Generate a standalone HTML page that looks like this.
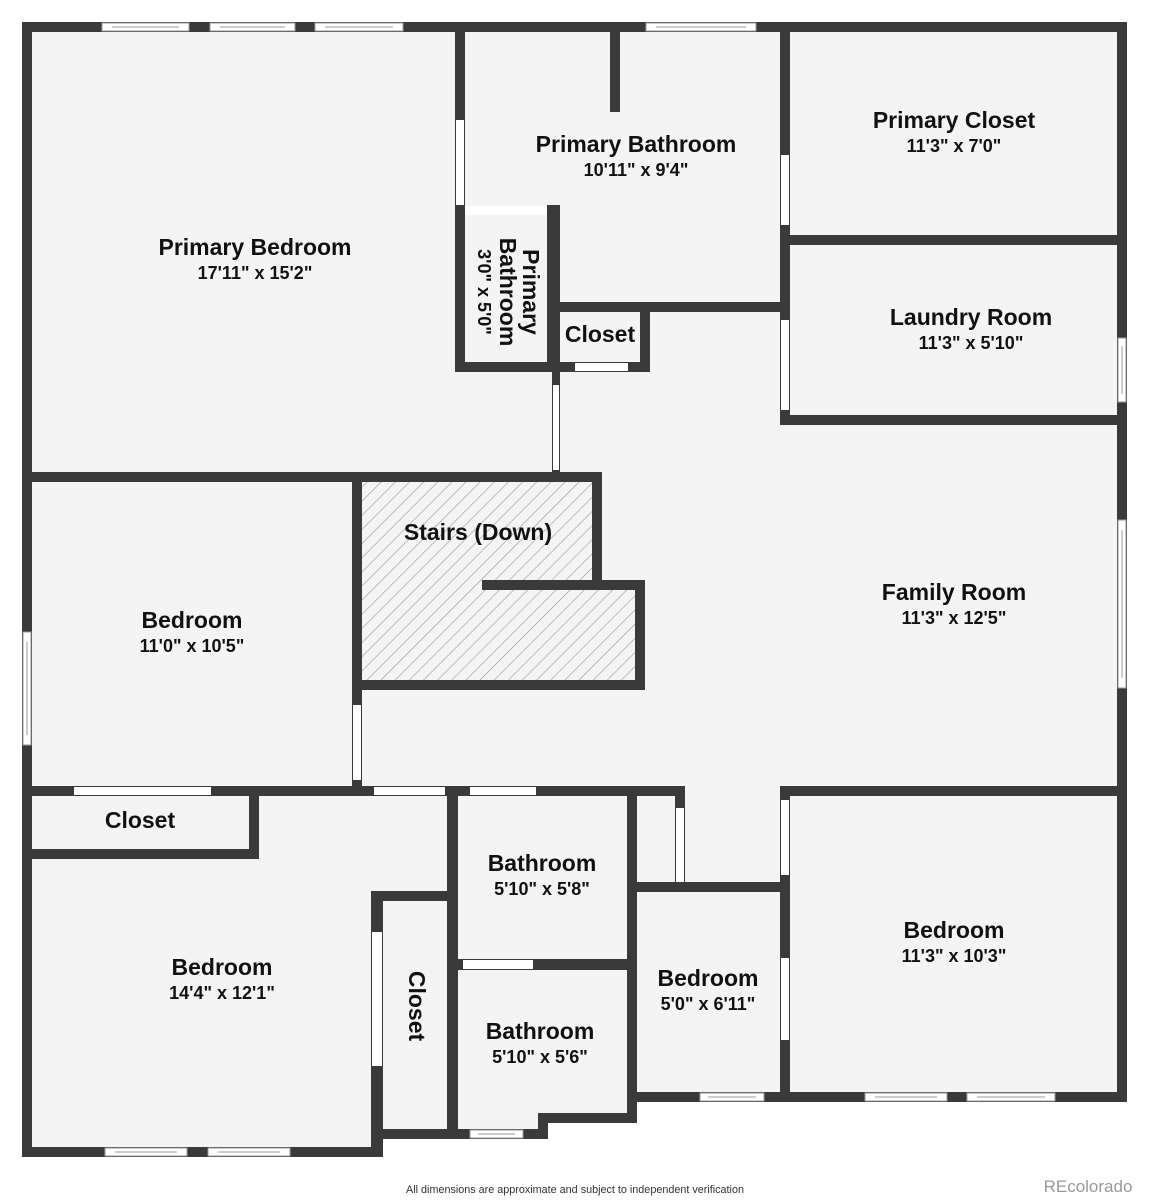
<!DOCTYPE html>
<html><head><meta charset="utf-8"><style>
html,body{margin:0;padding:0;background:#fff;width:1149px;height:1200px;overflow:hidden}
svg{display:block}
.t{font-family:"Liberation Sans",sans-serif;font-weight:bold;fill:#111;text-anchor:middle}
.n{font-size:23px}
.d{font-size:18px}
</style></head><body>
<svg width="1149" height="1200" viewBox="0 0 1149 1200">
<defs>
<pattern id="h" patternUnits="userSpaceOnUse" width="10" height="10" patternTransform="rotate(45)">
<rect width="10" height="10" fill="#f4f4f4"/><line x1="0" y1="0" x2="0" y2="10" stroke="#999" stroke-width="1.2"/>
</pattern>
</defs>
<polygon points="22,22 1127,22 1127,1102 637,1102 637,1123 548,1123 548,1139 382,1139 382,1157 22,1157" fill="#f4f4f4"/>
<rect x="362" y="482" width="236" height="103" fill="url(#h)"/>
<rect x="362" y="585" width="278" height="100" fill="url(#h)"/>
<g fill="#3a3a3a">
<rect x="22" y="22" width="1105" height="10"/>
<rect x="22" y="22" width="10" height="1135"/>
<rect x="1117" y="22" width="10" height="1080"/>
<rect x="22" y="1147" width="360" height="10"/>
<rect x="371" y="1129" width="87" height="10"/>
<rect x="371" y="891" width="12" height="266"/>
<rect x="458" y="1129" width="90" height="10"/>
<rect x="538" y="1113" width="10" height="26"/>
<rect x="538" y="1113" width="99" height="10"/>
<rect x="627" y="786" width="10" height="327"/>
<rect x="637" y="1092" width="490" height="10"/>
<rect x="455" y="22" width="10" height="350"/>
<rect x="455" y="362" width="105" height="10"/>
<rect x="547" y="205" width="13" height="167"/>
<rect x="610" y="32" width="10" height="80"/>
<rect x="780" y="22" width="10" height="403"/>
<rect x="560" y="302" width="230" height="10"/>
<rect x="640" y="302" width="10" height="70"/>
<rect x="555" y="362" width="95" height="10"/>
<rect x="552" y="362" width="8" height="110"/>
<rect x="780" y="235" width="347" height="10"/>
<rect x="780" y="415" width="347" height="10"/>
<rect x="22" y="472" width="580" height="10"/>
<rect x="352" y="472" width="10" height="324"/>
<rect x="592" y="472" width="10" height="118"/>
<rect x="482" y="580" width="163" height="10"/>
<rect x="635" y="580" width="10" height="110"/>
<rect x="352" y="680" width="293" height="10"/>
<rect x="22" y="786" width="663" height="10"/>
<rect x="249" y="786" width="10" height="73"/>
<rect x="22" y="849" width="237" height="10"/>
<rect x="371" y="891" width="87" height="10"/>
<rect x="447" y="786" width="11" height="353"/>
<rect x="458" y="959" width="169" height="11"/>
<rect x="675" y="786" width="10" height="100"/>
<rect x="627" y="882" width="163" height="10"/>
<rect x="780" y="786" width="347" height="10"/>
<rect x="780" y="786" width="10" height="316"/>
</g>
<g fill="#fff">
<rect x="456" y="120" width="8" height="85"/>
<rect x="465" y="206" width="82" height="9"/>
<rect x="781" y="155" width="8" height="70"/>
<rect x="575" y="363" width="53" height="8"/>
<rect x="553" y="385" width="6" height="85"/>
<rect x="781" y="320" width="8" height="90"/>
<rect x="353" y="705" width="8" height="75"/>
<rect x="74" y="787" width="137" height="8"/>
<rect x="374" y="787" width="71" height="8"/>
<rect x="470" y="787" width="66" height="8"/>
<rect x="372" y="932" width="10" height="134"/>
<rect x="463" y="960" width="70" height="9"/>
<rect x="676" y="808" width="8" height="74"/>
<rect x="781" y="800" width="8" height="75"/>
<rect x="781" y="958" width="8" height="82"/>
</g>
<g fill="#fff" stroke="#999" stroke-width="1">
<rect x="102" y="23" width="87" height="8"/><line x1="112" y1="27" x2="179" y2="27"/>
<rect x="210" y="23" width="85" height="8"/><line x1="220" y1="27" x2="285" y2="27"/>
<rect x="315" y="23" width="88" height="8"/><line x1="325" y1="27" x2="393" y2="27"/>
<rect x="646" y="23" width="110" height="8"/><line x1="656" y1="27" x2="746" y2="27"/>
<rect x="23" y="632" width="8" height="113"/><line x1="27" y1="642" x2="27" y2="735"/>
<rect x="1118" y="338" width="8" height="64"/><line x1="1122" y1="346" x2="1122" y2="394"/>
<rect x="1118" y="520" width="8" height="168"/><line x1="1122" y1="530" x2="1122" y2="678"/>
<rect x="105" y="1148" width="82" height="8"/><line x1="115" y1="1152" x2="177" y2="1152"/>
<rect x="208" y="1148" width="82" height="8"/><line x1="218" y1="1152" x2="280" y2="1152"/>
<rect x="470" y="1130" width="53" height="8"/><line x1="478" y1="1134" x2="515" y2="1134"/>
<rect x="700" y="1093" width="64" height="8"/><line x1="708" y1="1097" x2="756" y2="1097"/>
<rect x="865" y="1093" width="82" height="8"/><line x1="875" y1="1097" x2="937" y2="1097"/>
<rect x="967" y="1093" width="88" height="8"/><line x1="977" y1="1097" x2="1045" y2="1097"/>
</g>
<text class="t n" x="255" y="255">Primary Bedroom</text>
<text class="t d" x="255" y="279">17'11" x 15'2"</text>
<text class="t n" x="636" y="152">Primary Bathroom</text>
<text class="t d" x="636" y="176">10'11" x 9'4"</text>
<text class="t n" x="954" y="128">Primary Closet</text>
<text class="t d" x="954" y="152">11'3" x 7'0"</text>
<text class="t n" x="971" y="325">Laundry Room</text>
<text class="t d" x="971" y="349">11'3" x 5'10"</text>
<text class="t n" x="600" y="342">Closet</text>
<g transform="translate(505,292) rotate(90)">
<text class="t n" x="0" y="-18">Primary</text>
<text class="t n" x="0" y="5">Bathroom</text>
<text class="t d" x="0" y="27">3'0" x 5'0"</text>
</g>
<text class="t n" x="478" y="540">Stairs (Down)</text>
<text class="t n" x="954" y="600">Family Room</text>
<text class="t d" x="954" y="624">11'3" x 12'5"</text>
<text class="t n" x="192" y="628">Bedroom</text>
<text class="t d" x="192" y="652">11'0" x 10'5"</text>
<text class="t n" x="140" y="828">Closet</text>
<text class="t n" x="222" y="975">Bedroom</text>
<text class="t d" x="222" y="999">14'4" x 12'1"</text>
<text class="t n" transform="translate(409,1006) rotate(90)" x="0" y="0">Closet</text>
<text class="t n" x="542" y="871">Bathroom</text>
<text class="t d" x="542" y="895">5'10" x 5'8"</text>
<text class="t n" x="540" y="1039">Bathroom</text>
<text class="t d" x="540" y="1063">5'10" x 5'6"</text>
<text class="t n" x="708" y="986">Bedroom</text>
<text class="t d" x="708" y="1010">5'0" x 6'11"</text>
<text class="t n" x="954" y="938">Bedroom</text>
<text class="t d" x="954" y="962">11'3" x 10'3"</text>
<text x="575" y="1193" font-family="Liberation Sans,sans-serif" font-size="10.8" fill="#333" text-anchor="middle">All dimensions are approximate and subject to independent verification</text>
<text x="1088" y="1192" font-family="Liberation Sans,sans-serif" font-size="17" fill="#999" text-anchor="middle">REcolorado</text>
</svg>
</body></html>
